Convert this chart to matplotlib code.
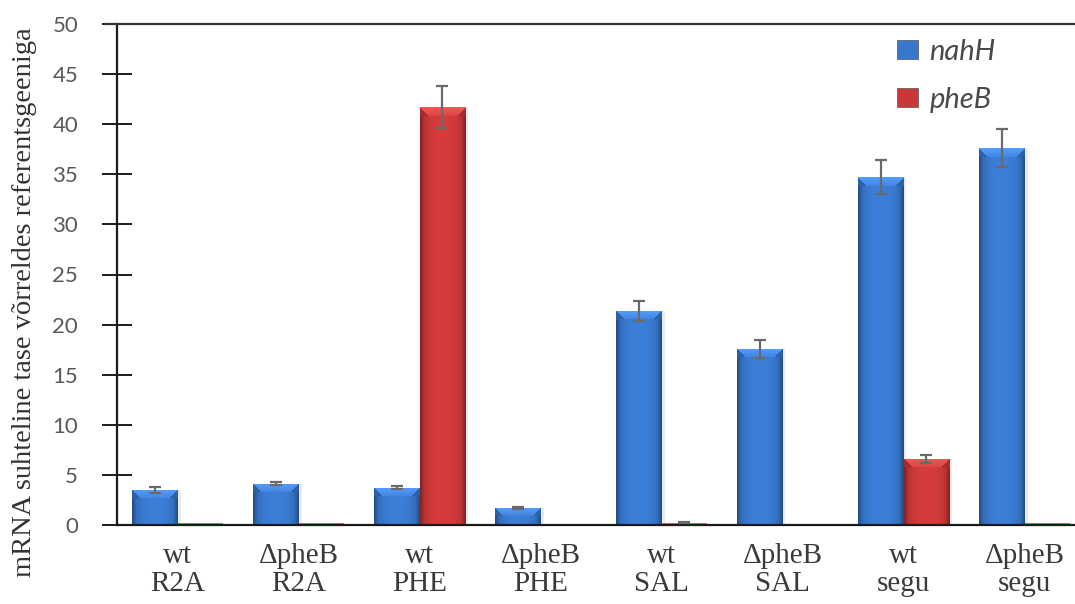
import numpy as np
import matplotlib
matplotlib.use("Agg")
import matplotlib.pyplot as plt
from matplotlib.colors import to_rgb

# Relative mRNA levels (compared with the reference gene)
strains = ["wt", "\u0394pheB", "wt", "\u0394pheB", "wt", "\u0394pheB", "wt", "\u0394pheB"]
media = ["R2A", "R2A", "PHE", "PHE", "SAL", "SAL", "segu", "segu"]
nahH = [3.5, 4.1, 3.7, 1.7, 21.4, 17.6, 34.7, 37.6]
nahH_err = [0.3, 0.15, 0.15, 0.1, 1.0, 0.9, 1.7, 1.9]
pheB = [0.2, 0.2, 41.7, 0.0, 0.2, 0.0, 6.6, 0.2]
pheB_err = [0.0, 0.0, 2.1, 0.0, 0.05, 0.0, 0.4, 0.0]

BLUE = "#3877cc"
RED = "#c93838"
ERR = "#6a6a6a"

fig = plt.figure(figsize=(10.75, 6.04), dpi=100)
ax = fig.add_axes([117 / 1075, 79 / 604, 968 / 1075, 501 / 604])

x = np.arange(len(strains))
w = 0.38
ax.set_xlim(-0.5, len(strains) - 0.5)
ax.set_ylim(0, 50)

bars_b = ax.bar(x - w / 2, nahH, w, color=BLUE, zorder=2, label="nahH")
bars_r = ax.bar(x + w / 2, pheB, w, color=RED, zorder=2, label="pheB")

fig.canvas.draw()
px_per_unit = ax.transData.transform((0, 1))[1] - ax.transData.transform((0, 0))[1]
px_per_x = ax.transData.transform((1, 0))[0] - ax.transData.transform((0, 0))[0]


def shade_bar(patch, base):
    """Paint a bevelled, horizontally shaded fill clipped to a bar."""
    h = patch.get_height()
    x0 = patch.get_x()
    bw = patch.get_width()
    nx = max(int(round(bw * px_per_x)), 2)
    ny = int(round(h * px_per_unit))
    if ny < 6:
        # very short bars keep their flat fill
        patch.set_facecolor("#e06a6a" if base[0] > base[2] else base)
        return
    c = np.array(to_rgb(base))
    xs = (np.arange(nx) + 0.5) / nx
    t = np.abs(xs - 0.5) * 2
    prof = 1.06 - 0.28 * t ** 3
    img = np.ones((ny, nx, 3)) * c[None, None, :] * prof[None, :, None]
    # soft darker sides
    side = np.clip(1 - np.minimum(np.arange(nx), np.arange(nx)[::-1]) / 4.0, 0, 1)
    img *= (1 - 0.18 * side)[None, :, None]
    # bevel highlight along the top
    band = min(9, ny // 2)
    for r in range(band):
        for col in range(nx):
            d = min(col, nx - 1 - col)
            if d >= r:
                f = 1.0 + 0.22 * (1 - r / max(band, 1))
                img[r, col] = np.clip(c * f + 0.05, 0, 1)
            else:
                img[r, col] = c * 0.82
    img = np.clip(img, 0, 1)
    im = ax.imshow(img, extent=(x0, x0 + bw, 0, h), origin="upper",
                   aspect="auto", interpolation="bilinear", zorder=2.5)
    im.set_clip_path(patch)
    # faint shadow on the right side
    ax.add_patch(plt.Rectangle((x0 + bw, 0), 3 / px_per_x, h, color="#000000",
                               alpha=0.08, lw=0, zorder=1.9))


for p in list(bars_b) + list(bars_r):
    if p.get_height() > 0:
        shade_bar(p, p.get_facecolor())

ax.set_xlim(-0.5, len(strains) - 0.5)
ax.set_ylim(0, 50)

ekw = dict(fmt="none", ecolor=ERR, elinewidth=1.6, capsize=4.5, capthick=1.6, zorder=3)
ax.errorbar(x - w / 2, nahH, yerr=nahH_err, **ekw)
pm = np.array(pheB_err) > 0
ax.errorbar((x + w / 2)[pm], np.array(pheB)[pm], yerr=np.array(pheB_err)[pm], **ekw)

# axes styling
ax.spines["right"].set_visible(False)
for s in ["left", "bottom", "top"]:
    ax.spines[s].set_color("#1a1a1a")
    ax.spines[s].set_linewidth(1.6)
ax.spines["top"].set_bounds(-0.6, len(strains) - 0.5)
ax.spines["top"].set_color("#333333")

ax.set_yticks(np.arange(0, 51, 5))
ax.tick_params(axis="y", direction="inout", length=22, width=1.4, color="#1a1a1a",
               labelsize=16, labelcolor="#595959", pad=17)
for lab in ax.get_yticklabels():
    lab.set_family("Lato")

ax.set_xticks(x)
ax.set_xticklabels([f"{s}\n{m}" for s, m in zip(strains, media)],
                   family="Liberation Serif", fontsize=21, color="#3a3a3a",
                   linespacing=1.12)
ax.tick_params(axis="x", length=0, pad=13)

ax.set_ylabel("mRNA suhteline tase v\u00f5rreldes referentsgeeniga",
              family="Liberation Serif", fontsize=20.5, color="#333333")
ax.yaxis.set_label_coords(-0.083, 0.445)

leg = ax.legend(loc="upper left", bbox_to_anchor=(0.779, 1.023), frameon=False,
                handlelength=0.7, handleheight=0.6, labelspacing=0.75,
                handletextpad=0.4, prop={"family": "Lato", "style": "italic", "size": 21})
for t in leg.get_texts():
    t.set_color("#4a4a4a")
for hnd, col in zip(leg.legend_handles, [BLUE, RED]):
    hnd.set_facecolor(col)
    hnd.set_edgecolor("#555555")
    hnd.set_linewidth(0.5)

fig.savefig("out.png", dpi=100, facecolor="white")
